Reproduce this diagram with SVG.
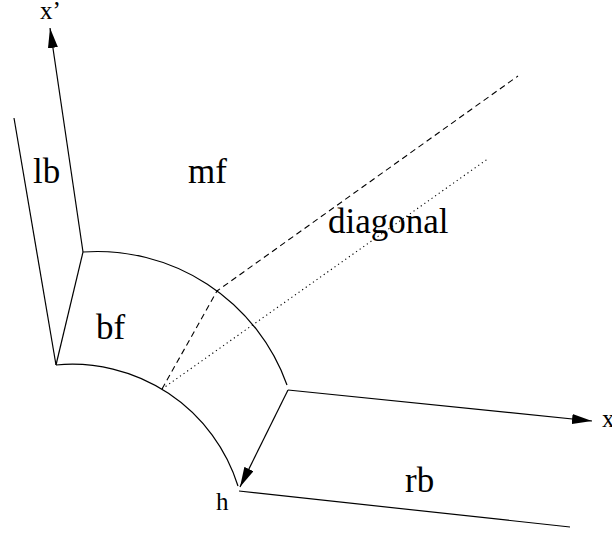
<svg xmlns="http://www.w3.org/2000/svg" width="612" height="535" viewBox="0 0 612 535">
<style>
.ln{fill:none;stroke:#000;stroke-width:1.2}
.dash{fill:none;stroke:#000;stroke-width:1.1;stroke-dasharray:6,4}
.dot{fill:none;stroke:#000;stroke-width:1.1;stroke-dasharray:1.2,3.2}
.lbl{font-family:"Liberation Serif","Times New Roman",serif;font-size:35px;fill:#000}
.sm{font-family:"Liberation Serif","Times New Roman",serif;font-size:25px;fill:#000}
</style>
<defs>
<marker id="ah" markerWidth="20" markerHeight="10" refX="20" refY="5" orient="auto" markerUnits="userSpaceOnUse">
<path d="M0,0 L20,5 L0,10 Z" fill="#000"/>
</marker>
</defs>
<g id="connectors">
<path class="ln" d="M14,118 L56,365"/>
<path class="ln" d="M56,365 L83,252"/>
<path class="ln" d="M83,252 L50,28" marker-end="url(#ah)"/>
<path class="ln" d="M83,252 A201.5,201.5 0 0 1 287,385"/>
<path class="ln" d="M56,365 A173.6,173.6 0 0 1 238,486"/>
<path class="ln" d="M288,390 L592,421" marker-end="url(#ah)"/>
<path class="ln" d="M288,390 L240,487" marker-end="url(#ah)"/>
<path class="ln" d="M239,491 L570,527"/>
<path class="dash" d="M162,389 L217,291 L518,76"/>
<path class="dot" d="M162,389 L489,158"/>
</g>
<g id="lb"><text class="lbl" x="33" y="183">lb</text></g>
<g id="mf"><text class="lbl" x="188" y="183">mf</text></g>
<g id="diagonal"><text class="lbl" x="328" y="233">diagonal</text></g>
<g id="bf"><text class="lbl" x="96" y="339">bf</text></g>
<g id="rb"><text class="lbl" x="405" y="492">rb</text></g>
<g id="h"><text class="sm" x="216" y="510">h</text></g>
<g id="xprime"><text class="sm" x="40" y="19">x’</text></g>
<g id="x"><text class="sm" x="602" y="427">x</text></g>
</svg>
